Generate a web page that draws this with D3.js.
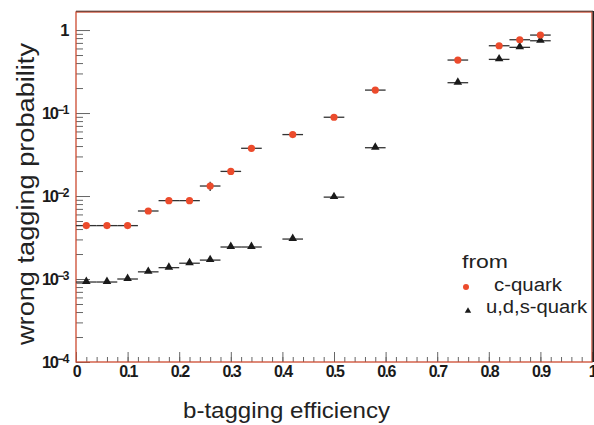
<!DOCTYPE html>
<html>
<head>
<meta charset="utf-8">
<script src="https://cdn.jsdelivr.net/npm/d3@7"></script>
<style>
  body { margin: 0; background: #fff; }
  svg { display: block; }
</style>
</head>
<body>
<svg id="chart" width="594" height="425"></svg>
<script>
// bin centres of the b-tagging efficiency
var effBins = [0.02, 0.06, 0.10, 0.14, 0.18, 0.22, 0.26, 0.30, 0.34, 0.42, 0.50, 0.58, 0.74, 0.82, 0.86, 0.90];
var binHalfWidth = 0.02;

// wrong tagging probability, c-quark
var cQuark = [0.0044, 0.0044, 0.0044, 0.0066, 0.0088, 0.0088, 0.0132, 0.0198, 0.0376, 0.055, 0.089, 0.189, 0.435, 0.647, 0.764, 0.87];
var cQuarkErr = [0, 0, 0, 0, 0, 0, 0.0017, 0, 0, 0, 0, 0, 0, 0, 0, 0];

// wrong tagging probability, u,d,s-quark
var udsQuark = [0.00092, 0.00092, 0.0010, 0.00122, 0.00137, 0.00155, 0.00169, 0.00243, 0.00243, 0.00303, 0.0097, 0.0382, 0.232, 0.443, 0.619, 0.743];

var xTicks = [0, 0.1, 0.2, 0.3, 0.4, 0.5, 0.6, 0.7, 0.8, 0.9, 1];
var yTicks = [1e-4, 1e-3, 1e-2, 1e-1, 1];
var yTickExp = ["-4", "-3", "-2", "-1", ""];

var legendTitle = "from";
var legendLabels = ["c-quark", "u,d,s-quark"];

var red = "#ec4b2c";
var ink = "#1a1a1a";
var font = "'Liberation Sans', Arial, sans-serif";

var svg = d3.select("#chart");
var mLeft = 76, mTop = 12, mRight = 592, mBottom = 362;

var x = d3.scaleLinear().domain([0, 1]).range([mLeft, mRight]);
var y = d3.scaleLog().domain([1e-4, 1.65]).range([mBottom, mTop]);

// minor ticks
var xMinor = d3.range(0, 1.001, 0.02).map(function (d) { return +d.toFixed(2); });
var yMinor = [];
[1e-4, 1e-3, 1e-2, 1e-1, 1].forEach(function (dec) {
	for (var k = 2; k <= 9; k++) {
		if (dec * k <= 1.65) yMinor.push(dec * k);
	}
});

svg.append("g")
	.attr("transform", "translate(0," + mBottom + ")")
	.call(d3.axisBottom(x).tickValues(xMinor).tickSize(-5).tickFormat(""))
	.call(function (g) { g.select(".domain").remove(); })
	.selectAll("line").attr("stroke", "#666");

svg.append("g")
	.attr("transform", "translate(0," + mBottom + ")")
	.call(d3.axisBottom(x).tickValues(xTicks).tickSize(-10).tickPadding(4).tickFormat(d3.format("~g")))
	.call(function (g) { g.select(".domain").remove(); })
	.call(function (g) {
		g.selectAll("line").attr("stroke", "#666");
		g.selectAll("text")
			.attr("fill", ink)
			.style("font-family", font)
			.style("font-size", "16px")
			.style("font-weight", "bold")
			.style("letter-spacing", "-1.5px");
	});

svg.append("g")
	.attr("transform", "translate(" + mLeft + ",0)")
	.call(d3.axisLeft(y).tickValues(yMinor).tickSize(-7).tickFormat(""))
	.call(function (g) { g.select(".domain").remove(); })
	.selectAll("line").attr("stroke", "#666");

var yAxis = svg.append("g")
	.attr("transform", "translate(" + mLeft + ",0)")
	.call(d3.axisLeft(y).tickValues(yTicks).tickSize(-14).tickPadding(8).tickFormat(""))
	.call(function (g) { g.select(".domain").remove(); });
yAxis.selectAll("line").attr("stroke", "#666");
yAxis.selectAll("text").each(function (d, i) {
	var t = d3.select(this)
		.attr("fill", ink)
		.style("font-family", font)
		.style("font-size", "16.5px")
		.style("font-weight", "bold")
		.style("letter-spacing", "-1.5px");
	if (yTickExp[i] === "") {
		t.text("1");
	} else {
		t.append("tspan").text("10");
		t.append("tspan").attr("dy", "-0.4em").style("font-size", "12px").text(yTickExp[i].replace("-", "\u2212"));
	}
});

// frame
svg.append("rect")
	.attr("x", mLeft).attr("y", mTop)
	.attr("width", mRight - mLeft).attr("height", mBottom - mTop)
	.attr("fill", "none").attr("stroke", "#cc4a30").attr("stroke-width", 1.3);
svg.append("line")
	.attr("x1", mLeft).attr("x2", mRight + 1).attr("y1", mTop - 0.8).attr("y2", mTop - 0.8)
	.attr("stroke", "#4a2a22").attr("stroke-width", 1);
svg.append("line")
	.attr("x1", mRight + 1.5).attr("x2", mRight + 1.5).attr("y1", mTop - 1).attr("y2", mBottom)
	.attr("stroke", "#222").attr("stroke-width", 2);

// error bars
function hbars(vals) {
	svg.append("g").selectAll("line")
		.data(effBins)
		.join("line")
		.attr("x1", function (d) { return x(d - binHalfWidth); })
		.attr("x2", function (d) { return x(d + binHalfWidth); })
		.attr("y1", function (d, i) { return y(vals[i]); })
		.attr("y2", function (d, i) { return y(vals[i]); })
		.attr("stroke", "#333")
		.attr("stroke-width", 1.3);
}
hbars(cQuark);
hbars(udsQuark);

svg.append("g").selectAll("line")
	.data(effBins.filter(function (d, i) { return cQuarkErr[i] > 0; }))
	.join("line")
	.attr("x1", function (d) { return x(d); })
	.attr("x2", function (d) { return x(d); })
	.attr("y1", function (d) { var i = effBins.indexOf(d); return y(cQuark[i] + cQuarkErr[i]); })
	.attr("y2", function (d) { var i = effBins.indexOf(d); return y(cQuark[i] - cQuarkErr[i]); })
	.attr("stroke", "#333")
	.attr("stroke-width", 1.3);

// markers
var tri = d3.symbol().type(d3.symbolTriangle).size(32);

svg.append("g").selectAll("path")
	.data(effBins)
	.join("path")
	.attr("d", tri)
	.attr("transform", function (d, i) { return "translate(" + x(d) + "," + (y(udsQuark[i]) - 0.5) + ")"; })
	.attr("fill", ink);

svg.append("g").selectAll("circle")
	.data(effBins)
	.join("circle")
	.attr("cx", function (d) { return x(d); })
	.attr("cy", function (d, i) { return y(cQuark[i]); })
	.attr("r", 3.6)
	.attr("fill", red);

// axis titles
svg.append("text")
	.attr("x", 183).attr("y", 418)
	.attr("textLength", 207)
	.attr("lengthAdjust", "spacingAndGlyphs")
	.attr("fill", "#222")
	.style("font-family", font)
	.style("font-size", "22px")
	.text("b-tagging efficiency");

svg.append("text")
	.attr("transform", "translate(34,345) rotate(-90)")
	.attr("textLength", 302)
	.attr("lengthAdjust", "spacingAndGlyphs")
	.attr("fill", "#222")
	.style("font-family", font)
	.style("font-size", "23px")
	.text("wrong tagging probability");

// legend
var lg = svg.append("g")
	.style("font-family", font)
	.attr("fill", "#222");
lg.append("text").attr("x", 462).attr("y", 268)
	.attr("textLength", 46).attr("lengthAdjust", "spacingAndGlyphs")
	.style("font-size", "19px").text(legendTitle);
lg.append("circle").attr("cx", 466).attr("cy", 287).attr("r", 3).attr("fill", red);
lg.append("text").attr("x", 494).attr("y", 291)
	.attr("textLength", 68).attr("lengthAdjust", "spacingAndGlyphs")
	.style("font-size", "18px").text(legendLabels[0]);
lg.append("path").attr("d", d3.symbol().type(d3.symbolTriangle).size(18))
	.attr("transform", "translate(468,311)").attr("fill", ink);
lg.append("text").attr("x", 486).attr("y", 313)
	.attr("textLength", 101).attr("lengthAdjust", "spacingAndGlyphs")
	.style("font-size", "18px").text(legendLabels[1]);
</script>
</body>
</html>
